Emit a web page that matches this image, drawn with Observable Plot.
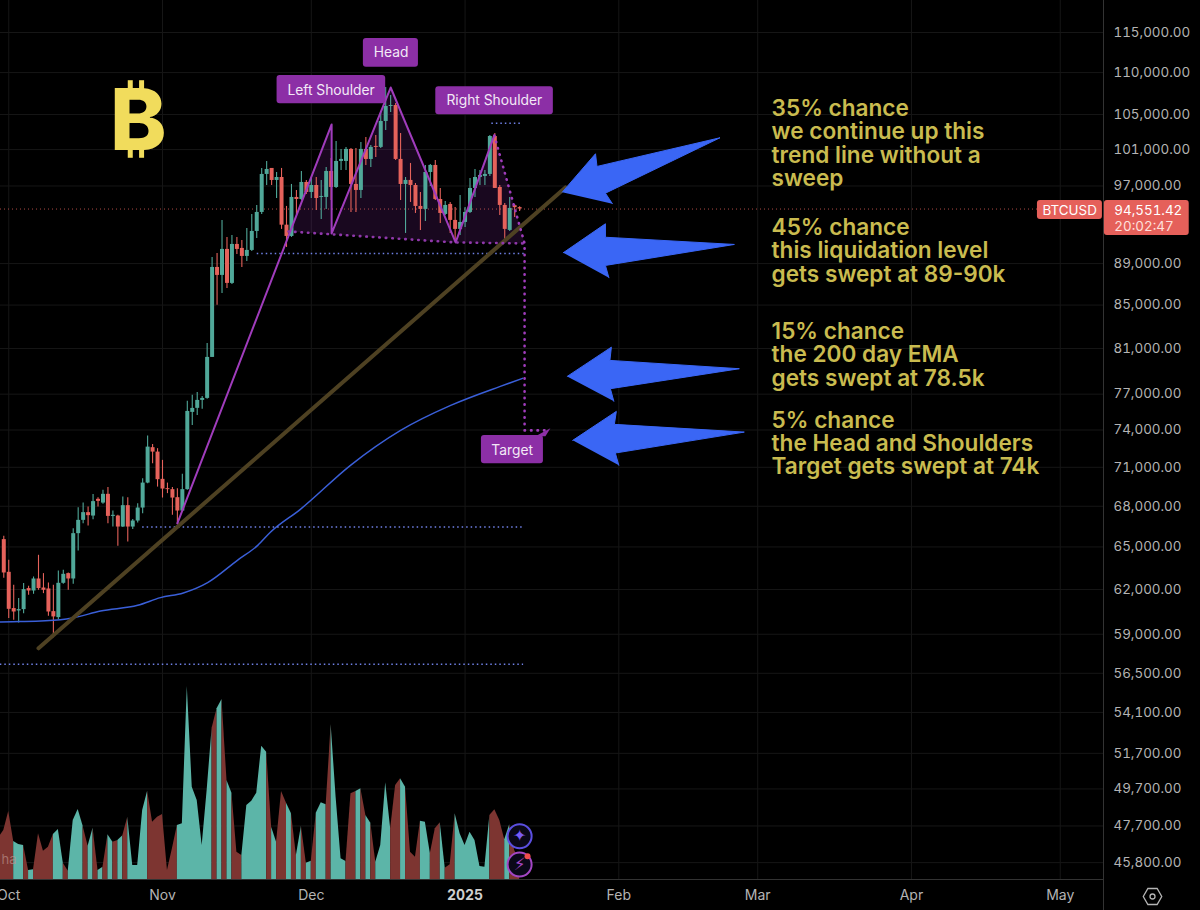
<!DOCTYPE html>
<html><head><meta charset="utf-8">
<script src="https://cdn.jsdelivr.net/npm/d3@7"></script>
<script src="https://cdn.jsdelivr.net/npm/@observablehq/plot@0.6"></script>
<style>
html,body{margin:0;padding:0;background:#000;width:1200px;height:910px;overflow:hidden}
#chart{position:relative;width:1200px;height:910px}
#chart svg{position:absolute;left:0;top:0}
</style></head><body><div id="chart"></div>
<script>
// Daily BTCUSD candles, first candle 30 Sep 2024
const opens=[65530,63196,60705,60545,60635,62065,61900,62730,62105,62040,60500,60100,62430,63105,62730,65965,66945,67520,67265,68525,68240,68905,67240,67265,66450,68045,66450,66895,67865,69770,72565,72210,70060,69340,69265,68650,67640,69265,75460,75800,76470,76640,80205,88620,87840,90410,87065,90910,90510,89710,90310,92230,94195,98250,98905,97595,97920,92875,91720,95775,95560,97380,96305,97055,95775,95775,98575,96840,99675,99675,101015,97165,96520,101015,99895,101350,101240,104195,105945,106060,99900,97165,97600,97055,94825,94510,98465,99235,95560,93985,95035,93365,92440,93155,94195,96735,97920,98030,98250,102475,96840,94930,92335,94900,94700];
const closes=[63150,60655,60475,60635,61995,61900,62730,62065,61950,60475,60145,62430,63055,62730,65965,66945,67520,67295,68350,68370,68905,67240,67320,66450,68045,66450,66895,67865,69770,72610,72210,70035,69310,69265,68620,67640,69265,75540,75795,76470,76640,80205,88620,87840,90410,87065,90910,90410,89710,90310,92230,94195,98250,98795,97595,97920,92875,91720,95775,95560,97380,96305,97055,95660,95880,98575,96840,99675,99900,101015,97165,96520,101015,99895,101240,101240,104195,105945,106060,99900,97165,97600,97055,94825,94510,98465,99235,95560,94090,94930,93365,92440,93155,94195,96735,97920,98140,98250,102475,96735,94930,92440,94615,94700,94551.42];
const highs=[65770,64043,62292,61380,62410,62220,62870,64400,63105,62450,62290,63290,63335,63150,66330,67895,68240,67940,68900,68650,69210,69420,67640,67320,68700,68650,67000,68195,70115,73505,72830,72485,71550,69770,69420,69340,70450,76390,76910,77154,76810,81460,89610,90010,93360,91620,91820,91620,91315,92540,93985,94930,98900,99675,98905,98465,98905,94825,97165,96520,98575,97600,97920,97920,97600,99020,100000,101910,101015,101240,101125,101125,101795,102360,101465,102590,105240,108200,107240,106295,102815,97920,99455,97270,96305,99235,99345,99785,96735,95350,95245,94720,95980,94720,97815,98795,98685,98685,102590,102815,97055,95140,95775,95000,94800];
const lows=[62780,60035,59920,59740,60365,61605,61675,61950,61720,60190,58780,59970,62360,61950,62360,64700,66700,66525,66995,67940,68145,66700,66450,65045,66410,65355,66265,66750,67445,69725,71290,69460,68620,68960,67320,66650,67565,69210,74380,75210,75715,76560,80205,84970,86100,86580,86970,89910,88620,89215,90210,91520,93985,97055,97055,95660,92440,90610,91620,93985,95455,96090,95660,94405,93460,94510,95450,96735,98685,98685,94195,94195,95660,99235,99015,100115,101125,103160,105240,99785,95455,92025,95245,94090,92335,93260,96950,95455,93055,93880,92025,91315,91820,92645,94090,95775,97055,97055,98030,96735,93880,91115,92230,93670,94300];
const volumeBefore=125;
const volumes=[147,204,114,105,102,27,29,137,85,97,135,150,49,25,177,210,160,100,154,27,37,134,112,117,131,187,42,42,207,265,172,187,195,27,92,162,167,579,277,237,102,267,454,512,540,297,259,82,72,222,235,259,400,382,157,112,264,229,197,72,160,49,55,199,230,224,465,247,62,54,257,264,272,192,169,52,102,290,152,282,302,277,82,67,175,172,77,152,170,34,44,197,137,102,142,117,39,37,192,209,177,119,164,87,57];

// All annotation positions: days since 1 Nov 2024, and price in USD
const emaDays=[-32.7,-28.6,-20.6,-17.9,-12.5,-5,-0.4,4.2,9.1,15.1,19.2,21.8,27.8,37.9,48,58.1,68.1,72.6];
const emaPrices=[59810,59835,59965,60095,60540,60925,61445,61765,62475,64040,65115,66085,67770,71160,73970,76050,77670,78360];
const trendDays=[-25,81.25];
const trendPrices=[58090,96843];
const patternDays=[3,34.1,34.1,46,59.1,66.9];
const patternPrices=[66725,103850,92025,108195,91113,102590];
const neckDays=[25.4,59.1,73];
const neckPrices=[92230,91113,91010];
const targetDays=[66.9,73,73,77.8];
const targetPrices=[102590,91010,73970,73970];
const levelPrices=[104000,90008,66450,57070];
const levelStarts=[66.4,19.1,-4,-32.7];
const levelEnds=[72.6,73,72.6,72.8];
const priceTicks=[115000,110000,105000,101000,97000,89000,85000,81000,77000,74000,71000,68000,65000,62000,59000,56500,54100,51700,49700,47700,45800];
const monthTicks=["2024-10-01","2024-11-01","2024-12-01","2025-02-01","2025-03-01","2025-04-01","2025-05-01"];
const monthNames=["Oct","Nov","Dec","Feb","Mar","Apr","May"];
const lastPrice=94551.42;
const tagNames=["Left Shoulder","Head","Right Shoulder","Target"];
const tagDays=[34.0,46.1,66.9,70.5];
const tagPrices=[107830,112476,106650,72350];
const tagX1=[23.1,40.5,55.1,64.3];
const tagX2=[45,51.6,78.8,76.8];
const tagY1=[109645,114240,108300,73560];
const tagY2=[106255,110660,104970,71290];
const arrowDays=[[80.6,87.3,87.6,112.4,89.3,90.7],[80.8,89.3,89.3,115.3,89.3,90],[81.6,90.5,90.2,116.3,90.3,91],[82.7,91.5,91.1,117.3,91.3,92]];
const arrowPrices=[[96340,100530,99125,102330,96230,95110],[90080,93020,91640,90910,88820,87615],[78535,81125,79940,79205,77470,76390],[73155,75545,74465,73830,72135,71160]];
const noteBlocks=["35% chance\nwe continue up this\ntrend line without a\nsweep","45% chance\nthis liquidation level\ngets swept at 89-90k","15% chance\nthe 200 day EMA\ngets swept at 78.5k","5% chance\nthe Head and Shoulders\nTarget gets swept at 74k"];
const notePrices=[101680,90258,80430,72915];

const NOV1=Date.UTC(2024,10,1), DAY=864e5;
const at=n=>new Date(NOV1+n*DAY);
const UP="#50a899",DOWN="#e5625b",UPV="#5cb5a8",DOWNV="#7d3531";
const PURPLE="#a03cbc",TAG="#8c2fa6",BLUE="#3a66f5",GOLD="#c9bb4f",GRID="#161616",AXIS="#b4b4b4";
const xDomain=[at(-162/4.96),at((1103-162)/4.96)];
const yDomain=[44950,119155];
const FONT="Inter, 'Noto Sans', sans-serif";
const frame={width:1200,height:910,margin:0,marginRight:97,marginBottom:31};
const monthDates=monthTicks.map(d=>new Date(d));

const candles=opens.map((o,i)=>({date:new Date(Date.UTC(2024,8,30+i)),open:o,close:closes[i],high:highs[i],low:lows[i],color:closes[i]>=o?UP:DOWN,vcolor:closes[i]>=o?UPV:DOWNV,vol:volumes[i]}));
const zip=(ds,ps)=>ds.map((d,i)=>({date:at(d),price:ps[i]}));

// Grid behind everything
const gridPlot=Plot.plot({...frame,
  style:{background:"#000",fontFamily:FONT},
  x:{type:"utc",domain:xDomain,axis:null},
  y:{type:"log",domain:yDomain,axis:null},
  marks:[
    Plot.gridX(monthDates.concat([new Date("2025-01-01")]),{stroke:GRID,strokeOpacity:1}),
    Plot.gridY(priceTicks,{stroke:GRID,strokeOpacity:1})
  ]});

// Volume pane: each stretch takes the colour of the candle it ends on; same-colour stretches join into one run
let run=0;
const segs=[{seg:0,date:new Date(Date.UTC(2024,8,29)),v:volumeBefore,c:candles[0].vcolor},{seg:0,date:candles[0].date,v:volumes[0],c:candles[0].vcolor}];
for(let i=1;i<candles.length;i++){
  if(candles[i].vcolor!==candles[i-1].vcolor){
    run++;
    segs.push({seg:run,date:candles[i-1].date,v:volumes[i-1],c:candles[i].vcolor});
  }
  segs.push({seg:run,date:candles[i].date,v:volumes[i],c:candles[i].vcolor});
}
const volPlot=Plot.plot({...frame,
  style:{background:"transparent",fontFamily:FONT},
  x:{type:"utc",domain:xDomain,axis:null},
  y:{domain:[0,597],range:[879,680],axis:null},
  color:{type:"identity"},
  marks:[
    Plot.area(segs,{x1:"date",y1:0,y2:"v",z:"seg",fill:"c"}),
    Plot.text(["ha"],{x:xDomain[0],y:60,text:d=>d,textAnchor:"start",dx:1,fill:"#b98f8b",fillOpacity:0.7,fontSize:13})
  ]});

const arrows=arrowDays.flatMap((ds,k)=>ds.map((d,i)=>({id:k,date:at(d),price:arrowPrices[k][i]})));
const tags=tagNames.map((t,i)=>({t,date:at(tagDays[i]),price:tagPrices[i],x1:at(tagX1[i]),x2:at(tagX2[i]),y1:tagY1[i],y2:tagY2[i]}));
const notes=noteBlocks.map((t,i)=>({t,date:at(122.8),price:notePrices[i]}));
const levels=levelPrices.map((p,i)=>({p,x1:at(levelStarts[i]),x2:at(levelEnds[i])}));
const fillPoly=zip([25.4,34.1,34.1,46,59.1,66.9,73,59.1],[92230,103850,92025,108195,91113,102590,91010,91113]);
const notch=zip([75.2,77.2,78.2],[73480,73480,74150]);

const pricePlot=Plot.plot({...frame,
  style:{background:"transparent",fontFamily:FONT,fontSize:"14px"},
  x:{type:"utc",domain:xDomain},
  y:{type:"log",domain:yDomain},
  color:{type:"identity"},
  marks:[
    Plot.line(fillPoly,{x:"date",y:"price",fill:"#9b32be",fillOpacity:0.16,stroke:null}),
    Plot.ruleY([lastPrice],{stroke:"#e5625b",strokeOpacity:0.75,strokeWidth:1,strokeDasharray:"1 3"}),
    Plot.ruleX(candles,{x:"date",y1:"low",y2:"high",stroke:"color",strokeWidth:1.1}),
    Plot.ruleX(candles,{x:"date",y1:"open",y2:"close",stroke:"color",strokeWidth:4}),
    Plot.line(zip(emaDays,emaPrices),{x:"date",y:"price",stroke:"#3a5fd8",strokeWidth:1.5,curve:"monotone-x"}),
    Plot.ruleY(levels,{y:"p",x1:"x1",x2:"x2",stroke:"#6f80e6",strokeWidth:1.5,strokeDasharray:"1.5 3"}),
    Plot.line(zip(trendDays,trendPrices),{x:"date",y:"price",stroke:"#4e4122",strokeWidth:4,strokeLinecap:"round"}),
    Plot.line(zip(patternDays,patternPrices),{x:"date",y:"price",stroke:PURPLE,strokeWidth:2}),
    Plot.line(zip(neckDays,neckPrices),{x:"date",y:"price",stroke:"#8f38aa",strokeWidth:2.6,strokeDasharray:"0.5 6",strokeLinecap:"round"}),
    Plot.line(zip(targetDays,targetPrices),{x:"date",y:"price",stroke:"#a03cbc",strokeWidth:2.6,strokeDasharray:"0.5 6",strokeLinecap:"round"}),
    Plot.line(arrows,{x:"date",y:"price",z:"id",fill:BLUE,stroke:BLUE,strokeWidth:1,strokeLinejoin:"round"}),
    Plot.rect(tags,{x1:"x1",x2:"x2",y1:"y1",y2:"y2",fill:TAG,rx:3}),
    Plot.line(notch,{x:"date",y:"price",fill:TAG,stroke:null}),
    Plot.text(tags,{x:"date",y:"price",text:"t",fill:"#f3e9f6",fontSize:13.8}),
    Plot.text(notes,{x:"date",y:"price",text:"t",fill:GOLD,fontSize:22.6,fontWeight:600,textAnchor:"start",lineHeight:1.03}),
    Plot.text(["₿"],{x:at(-4.9),y:104000,fill:"#f1dc5c",fontSize:85,fontWeight:800,fontFamily:"Inter",text:d=>d}),
    // axes
    Plot.ruleY([yDomain[0]],{stroke:"#333"}),
    Plot.ruleX([xDomain[1]],{y1:43290,y2:yDomain[1],stroke:"#333"}),
    Plot.axisY(priceTicks,{anchor:"right",tickSize:0,tickPadding:10,label:null,fill:AXIS,fontSize:13.4,tickFormat:d3.format(",.2f")}),
    Plot.axisX(monthDates,{anchor:"bottom",tickSize:0,tickPadding:11,label:null,fill:AXIS,fontSize:14,tickFormat:(d,i)=>monthNames[i]}),
    Plot.axisX([new Date("2025-01-01")],{anchor:"bottom",tickSize:0,tickPadding:11,label:null,fill:"#cfcfcf",fontSize:14,fontWeight:700,tickFormat:()=>"2025"}),
    // price tags
    Plot.rect([0],{x1:at(176.4),x2:at(189.5),y1:95455,y2:93465,fill:"#e5605a",rx:3}),
    Plot.rect([0],{x1:at(189.9),x2:at(207),y1:95455,y2:91820,fill:"#e5605a",rx:3}),
    Plot.text(["BTCUSD"],{x:at(182.9),y:94405,fill:"#fff",fontSize:13.4,text:d=>d}),
    Plot.text([d3.format(",.2f")(lastPrice)],{x:at(191.9),y:94405,fill:"#fff",fontSize:13.4,fontVariant:"tabular-nums",textAnchor:"start",text:d=>d}),
    Plot.text(["20:02:47"],{x:at(191.9),y:92740,fill:"#ffe0dd",fontSize:13.4,fontVariant:"tabular-nums",textAnchor:"start",text:d=>d}),
    // icons
    Plot.dot([47160,45700],{x:at(72),y:d=>d,r:12,fill:"#0a0818",stroke:(d,i)=>i?"#a346c4":"#5b4fe0",strokeWidth:2}),
    Plot.text(["✦"],{x:at(72),y:47160,fill:"#7a5cf5",fontSize:16,fontFamily:"'DejaVu Sans'",text:d=>d}),
    Plot.text(["⚡"],{x:at(72),y:45700,fill:"#a346c4",fontSize:17,fontFamily:"'DejaVu Sans'",text:d=>d}),
    Plot.dot([46130],{x:at(73.6),y:d=>d,r:3,fill:"#ef4d4d"}),
    Plot.dot([44110],{x:at(199.6),y:d=>d,r:8,symbol:"hexagon",rotate:30,fill:"none",stroke:"#b4b4b4",strokeWidth:1.3}),
    Plot.dot([44110],{x:at(199.6),y:d=>d,r:2.5,fill:"none",stroke:"#b4b4b4",strokeWidth:1.3})
  ]});
const root=document.getElementById("chart");
root.appendChild(gridPlot);
root.appendChild(volPlot);
root.appendChild(pricePlot);
</script></body></html>
